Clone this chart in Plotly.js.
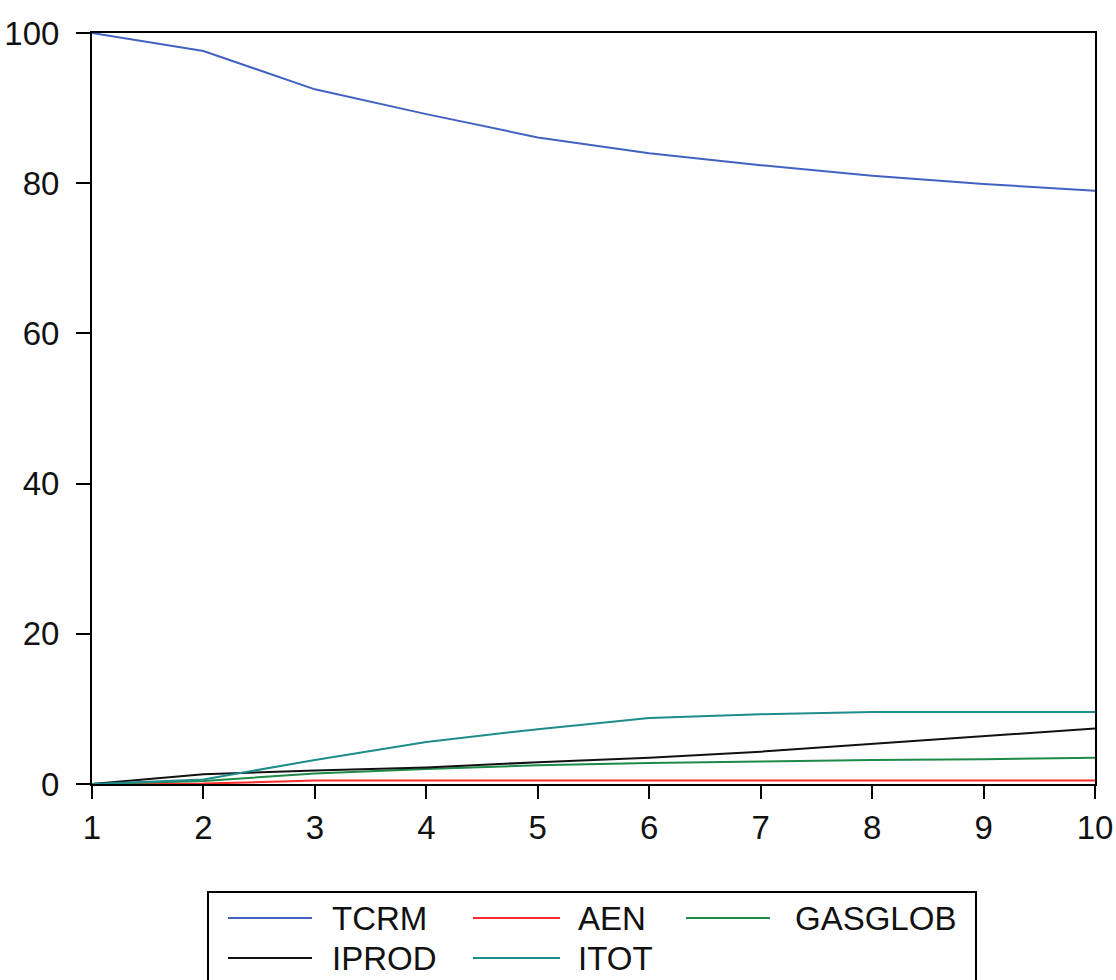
<!DOCTYPE html>
<html>
<head>
<meta charset="utf-8">
<script src="https://cdn.plot.ly/plotly-3.0.1.min.js"></script>
<style>
  html, body { margin: 0; padding: 0; background: #fff; }
  #chart { width: 1116px; height: 980px; }
</style>
</head>
<body>
<div id="chart"></div>
<script>
// Variance decomposition horizons
const periods = [1, 2, 3, 4, 5, 6, 7, 8, 9, 10];

// Share of forecast error variance (%) by shock
const tcrm    = [100.0, 97.6, 92.5, 89.2, 86.1, 84.0, 82.4, 81.0, 79.9, 79.0];
const aen     = [0.0, 0.05, 0.45, 0.45, 0.45, 0.45, 0.45, 0.45, 0.45, 0.45];
const gasglob = [0.0, 0.4, 1.4, 2.0, 2.5, 2.8, 3.0, 3.2, 3.3, 3.5];
const iprod   = [0.0, 1.3, 1.8, 2.2, 2.9, 3.5, 4.3, 5.3, 6.4, 7.4];
const itot    = [0.0, 0.6, 3.2, 5.6, 7.3, 8.8, 9.3, 9.6, 9.6, 9.6];

const seriesNames  = ['TCRM', 'AEN', 'GASGLOB', 'IPROD', 'ITOT'];
const seriesValues = [tcrm, aen, gasglob, iprod, itot];
const seriesColors = ['#4262C2', '#FF2A2A', '#1E8A4A', '#111111', '#1F8C8C'];

const xTicks = [1, 2, 3, 4, 5, 6, 7, 8, 9, 10];
const yTicks = [0, 20, 40, 60, 80, 100];

const traces = seriesNames.map((name, i) => ({
  type: 'scatter',
  mode: 'lines',
  name: name,
  x: periods,
  y: seriesValues[i],
  line: { color: seriesColors[i], width: 2 },
  showlegend: false
}));

// Plot geometry (pixels) used to place the boxed legend below the axes
const W = 1116, H = 980;
const M = { l: 92, r: 21, t: 33, b: 196 };
const plotW = W - M.l - M.r, plotH = H - M.t - M.b;
const px = x => (x - M.l) / plotW;
const py = y => (H - M.b - y) / plotH;

const font = { family: 'Liberation Sans, Arial, sans-serif', size: 33, color: '#111' };

// Legend entries: [line start x, line end x, text x, row y]
const legendPos = [
  [228, 312, 330, 918],
  [473, 560, 576, 918],
  [686, 770, 793, 918],
  [228, 312, 330, 958],
  [473, 560, 576, 958]
];

const shapes = [{
  type: 'rect', xref: 'paper', yref: 'paper',
  x0: px(208), x1: px(976), y0: py(1000), y1: py(892),
  line: { color: '#000', width: 2 }, fillcolor: 'rgba(0,0,0,0)'
}];
const annotations = [];
seriesNames.forEach((name, i) => {
  const p = legendPos[i];
  shapes.push({
    type: 'line', xref: 'paper', yref: 'paper',
    x0: px(p[0]), x1: px(p[1]), y0: py(p[3]), y1: py(p[3]),
    line: { color: seriesColors[i], width: 2 }
  });
  annotations.push({
    xref: 'paper', yref: 'paper', x: px(p[2]), y: py(p[3]),
    xanchor: 'left', yanchor: 'middle', showarrow: false,
    text: name, font: font
  });
});

const layout = {
  width: W, height: H,
  margin: M,
  paper_bgcolor: '#fff',
  plot_bgcolor: '#fff',
  font: font,
  showlegend: false,
  xaxis: {
    range: [1, 10],
    tickvals: xTicks,
    ticktext: xTicks.map(String),
    ticks: 'outside', ticklen: 13, tickwidth: 2, tickcolor: '#000',
    showline: true, linecolor: '#000', linewidth: 2, mirror: true,
    showgrid: false, zeroline: false,
    tickfont: font
  },
  yaxis: {
    range: [0, 100],
    tickvals: yTicks,
    ticktext: yTicks.map(String),
    ticks: 'outside', ticklen: 14, tickwidth: 2, tickcolor: '#000',
    showline: true, linecolor: '#000', linewidth: 2, mirror: true,
    showgrid: false, zeroline: false,
    ticklabelstandoff: 10,
    tickfont: font
  },
  shapes: shapes,
  annotations: annotations
};

Plotly.newPlot('chart', traces, layout, { displayModeBar: false, staticPlot: true });
</script>
</body>
</html>
